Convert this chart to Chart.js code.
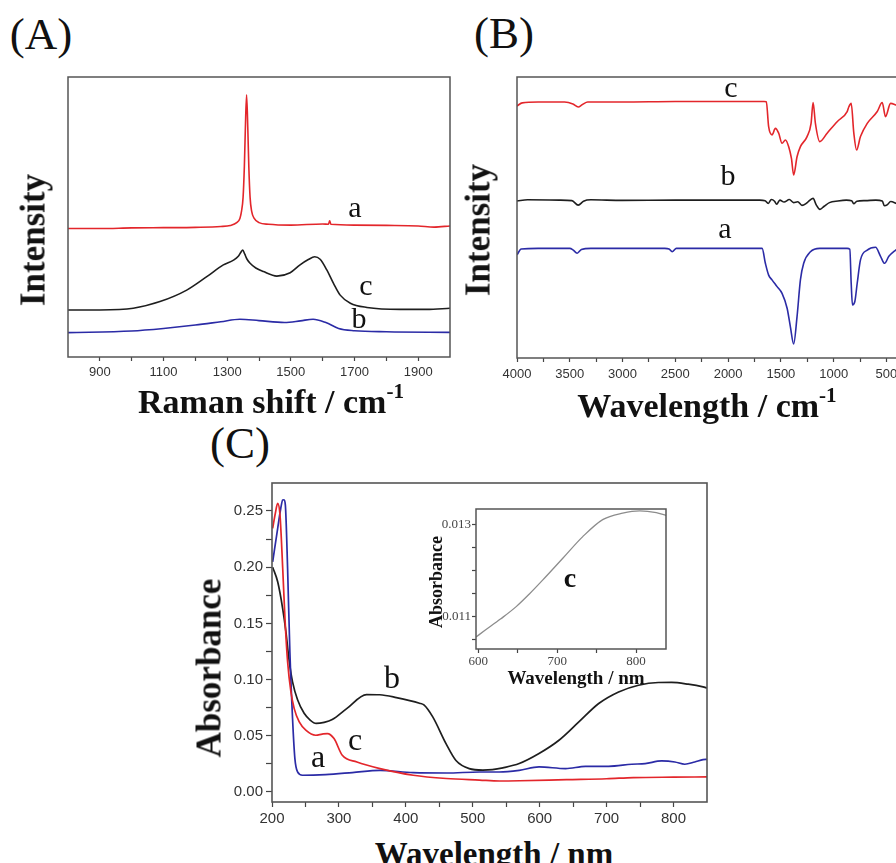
<!DOCTYPE html>
<html>
<head>
<meta charset="utf-8">
<script src="https://cdn.jsdelivr.net/npm/chart.js@4.4.0/dist/chart.umd.min.js"></script>
<style>
  html, body { margin:0; padding:0; background:#fff; }
  body { width:896px; height:863px; overflow:hidden; position:relative; }
  canvas { position:absolute; }
  .lbl { position:absolute; white-space:nowrap; font-family:'Liberation Serif','DejaVu Serif','Times New Roman',serif; color:#111; }
  .sup { font-size:0.62em; position:relative; top:-0.7em; }
</style>
</head>
<body>
<canvas id="cA" width="470" height="330" style="left:0px;top:60px;width:470px;height:330px"></canvas>
<canvas id="cB" width="440" height="330" style="left:470px;top:60px;width:440px;height:330px"></canvas>
<canvas id="cC" width="540" height="360" style="left:180px;top:470px;width:540px;height:360px"></canvas>
<canvas id="cI" width="260" height="195" style="left:420px;top:495px;width:260px;height:195px"></canvas>
<script>
// ---------------- DATA ----------------
// Panel A: Raman spectra (x = Raman shift / cm-1, y = intensity, arbitrary units)
const A_a_x = [800,900,1000,1100,1200,1280,1310,1330,1340,1345,1350,1354,1357,1361,1365,1368,1372,1377,1385,1400,1430,1500,1600,1618,1622,1626,1700,1800,1900,1950,2000];
const A_a_y = [45.9,45.9,46.1,46.2,46.3,46.6,47.0,48.0,49.5,52.0,57.0,68.0,81.0,93.6,81.0,68.0,57.0,52.0,49.5,48.0,47.4,47.1,47.5,47.4,48.6,47.4,47.1,47.0,46.8,46.4,46.8];
const A_c_x = [800,900,1005,1089,1173,1236,1288,1320,1335,1343,1349,1355,1362,1372,1390,1414,1456,1498,1529,1555,1575,1592,1613,1634,1655,1687,1739,1843,1927,2000];
const A_c_y = [16.8,16.8,17.4,19.8,23.9,28.7,32.9,34.6,36.0,37.4,38.2,36.8,35.0,33.5,31.8,30.5,28.9,30.1,32.9,34.8,35.8,34.9,31.1,26.3,22.1,19.2,17.7,17.0,17.0,17.4];
const A_b_x = [800,1000,1100,1200,1280,1340,1400,1480,1530,1570,1610,1650,1700,1800,2000];
const A_b_y = [8.7,9.3,10.2,11.4,12.6,13.5,13.0,12.3,12.9,13.5,12.3,10.2,9.4,9.0,8.8];
const A_xTicks = [900,1000,1100,1200,1300,1400,1500,1600,1700,1800,1900];
const A_xLabels = [900,1100,1300,1500,1700,1900];

// Panel B: IR spectra (x = wavenumber / cm-1, y = intensity, arbitrary units)
const B_c_x = [4000,3950,3800,3550,3470,3420,3380,3330,3000,2500,2000,1660,1638,1616,1584,1552,1521,1489,1457,1426,1400,1379,1347,1315,1252,1214,1195,1173,1132,1062,967,872,856,834,809,783,746,682,587,540,509,461,404];
const B_c_y = [89.7,90.8,91.1,91.1,90.4,89.3,90.2,91.1,91.1,91.3,91.3,91.3,91.2,82.3,79.4,81.7,80.0,76.4,77.6,75.2,71.0,65.1,71.6,75.2,78.8,83.5,90.9,83.5,77.0,80.0,84.1,87.7,89.4,90.6,80.0,74.0,78.8,83.5,87.7,90.9,85.9,90.6,90.0];
const B_b_x = [4000,3900,3600,3480,3420,3370,3300,3000,2500,2000,1700,1650,1620,1590,1560,1540,1510,1470,1420,1380,1340,1300,1260,1230,1195,1165,1130,1090,1040,960,880,830,810,780,700,600,540,520,490,460,404];
const B_b_y = [55.9,56.3,56.2,56.0,54.4,55.8,56.3,56.1,56.2,56.2,56.2,56.0,55.0,56.4,55.8,54.7,56.2,55.5,56.4,55.3,55.6,54.3,55.0,56.0,56.8,54.5,52.9,54.0,55.3,55.9,56.2,56.0,54.9,55.8,56.0,56.2,55.9,54.2,54.6,55.7,55.0];
const B_a_x = [4000,3960,3800,3500,3470,3430,3390,3300,2600,2560,2530,2490,1700,1678,1647,1616,1584,1536,1489,1441,1410,1379,1347,1315,1284,1220,1132,872,847,834,822,800,777,746,682,603,556,518,477,404];
const B_a_y = [36.7,38.8,39.0,39.0,38.5,37.3,38.6,39.0,39.0,38.8,37.8,39.0,39.0,39.0,33.7,29.5,27.8,25.4,23.0,17.7,11.1,5.0,14.7,27.8,33.7,37.8,39.0,39.0,38.7,26.6,18.9,20.0,26.6,34.9,38.4,39.4,36.2,33.7,36.2,38.7];
const B_xTicks = [500,750,1000,1250,1500,1750,2000,2250,2500,2750,3000,3250,3500,3750,4000];
const B_xLabels = [500,1000,1500,2000,2500,3000,3500,4000];

// Panel C: UV-vis absorbance (x = wavelength / nm)
const C_b_x = [201,208.5,216,220.8,225.8,230.7,238.2,248,257,266,278,290,311.6,341.3,361,385.8,420.4,427,440.2,460,474.9,494.7,515,529.3,545,569.4,599,628.8,658.5,688.2,717.9,747.6,777.3,797,821.9,844.1,850];
const C_b_y = [0.200,0.187,0.163,0.1425,0.116,0.098,0.082,0.070,0.064,0.061,0.062,0.0645,0.0742,0.0867,0.0865,0.084,0.079,0.0775,0.0668,0.043,0.028,0.0208,0.0195,0.0199,0.0215,0.0253,0.0342,0.046,0.0623,0.0787,0.089,0.095,0.0974,0.0975,0.0959,0.0935,0.0925];
const C_c_x = [201,205,208.5,212,216,219.4,223.3,228.3,233.2,240.7,250.5,265.4,275,282.7,292.7,305,326.9,361.5,411,460.5,510,540,570,640,700,740,800,850];
const C_c_y = [0.2345,0.248,0.2568,0.246,0.199,0.154,0.116,0.089,0.0742,0.0623,0.055,0.0505,0.0515,0.052,0.0475,0.0327,0.0267,0.0208,0.0149,0.012,0.0106,0.0098,0.0100,0.0110,0.0118,0.0128,0.0132,0.0134];
const C_a_x = [201,208.5,213,216,218,220,223.3,226.7,230.7,234.2,238.2,245.6,280,320,361.4,410.9,460.5,510,539.7,569.4,599,638.7,668.4,703,737.7,757.5,782.2,802,816.9,831.7,844.1,850];
const C_a_y = [0.2048,0.2345,0.252,0.2598,0.26,0.255,0.199,0.1247,0.0654,0.0297,0.0178,0.0149,0.0155,0.0173,0.0193,0.0172,0.0169,0.0178,0.0178,0.0193,0.0223,0.0208,0.0228,0.0228,0.0247,0.0253,0.0276,0.0267,0.0247,0.0267,0.0288,0.029];
const C_xTicks = [200,250,300,350,400,450,500,550,600,650,700,750,800];
const C_xLabels = [200,300,400,500,600,700,800];
const C_yTicks = [0,0.025,0.05,0.075,0.1,0.125,0.15,0.175,0.2,0.225,0.25];
const C_yLabels = [0,0.05,0.1,0.15,0.2,0.25];

// Inset of C: curve c, 600-840 nm
const I_x = [597,608,628,648,665,681.8,707.1,732.4,757.7,783,804.7,825.7,838];
const I_y = [0.01056,0.0107,0.01095,0.01122,0.0115,0.0118,0.01227,0.01274,0.01311,0.01325,0.0133,0.01326,0.0132];
const I_xTicks = [600,650,700,750,800];
const I_xLabels = [600,700,800];
const I_yTicks = [0.0105,0.011,0.0115,0.012,0.0125,0.013];
const I_yLabels = [0.011,0.013];

// ---------------- STYLE / HELPERS ----------------
const RED = '#e3262b', BLACK = '#1e1e1e', BLUE = '#2b2ba6', GREY = '#8c8c8c';
const SANS = "'Liberation Sans', Arial, sans-serif";
const SERIF = "'Liberation Serif', 'Times New Roman', serif";

const framePlugin = {
  id: 'frame',
  afterDraw(chart, args, opts) {
    const { ctx, chartArea: a } = chart;
    ctx.save();
    ctx.strokeStyle = opts.color || '#555';
    ctx.lineWidth = opts.width || 1.5;
    ctx.strokeRect(a.left, a.top, a.right - a.left, a.bottom - a.top);
    ctx.restore();
  }
};

function series(xs, ys, color, width) {
  return {
    data: xs.map((x, i) => ({ x: x, y: ys[i] })),
    borderColor: color, borderWidth: width, pointRadius: 0, fill: false,
    cubicInterpolationMode: 'monotone'
  };
}

function xAxis(o) {
  return {
    type: 'linear', position: 'bottom', min: o.min, max: o.max, reverse: !!o.reverse,
    afterBuildTicks: ax => { ax.ticks = o.ticks.map(v => ({ value: v })); },
    afterFit: ax => { ax.height = o.height; },
    border: { display: false },
    grid: { display: true, drawOnChartArea: false, drawTicks: true, tickLength: o.tickLen, tickColor: '#444', tickWidth: 1.2 },
    ticks: { autoSkip: false, maxRotation: 0, minRotation: 0, padding: o.pad, color: o.color || '#333',
      font: { family: o.family || SANS, size: o.size },
      callback: v => o.labels.includes(v) ? o.fmt(v) : '' }
  };
}
function yAxis(o) {
  if (!o.ticks) {
    return { type: 'linear', min: o.min, max: o.max, border: { display: false },
      grid: { display: false }, ticks: { display: false },
      afterFit: ax => { ax.width = o.width; } };
  }
  return {
    type: 'linear', position: 'left', min: o.min, max: o.max,
    afterBuildTicks: ax => { ax.ticks = o.ticks.map(v => ({ value: v })); },
    afterFit: ax => { ax.width = o.width; },
    border: { display: false },
    grid: { display: true, drawOnChartArea: false, drawTicks: true, tickLength: o.tickLen, tickColor: '#444', tickWidth: 1.2 },
    ticks: { autoSkip: false, padding: o.pad, color: o.color || '#333',
      font: { family: o.family || SANS, size: o.size },
      callback: v => o.labels.includes(v) ? o.fmt(v) : '' }
  };
}
function baseOptions(padding, scales, frameWidth) {
  return {
    responsive: false, animation: false, devicePixelRatio: 1,
    layout: { padding: padding },
    plugins: { legend: { display: false }, tooltip: { enabled: false }, frame: { color: '#555', width: frameWidth } },
    scales: scales
  };
}

// ---------------- CHARTS ----------------
new Chart(document.getElementById('cA'), {
  type: 'line',
  data: { datasets: [
    series(A_a_x, A_a_y, RED, 1.6),
    series(A_c_x, A_c_y, BLACK, 1.6),
    series(A_b_x, A_b_y, BLUE, 1.6)
  ] },
  options: baseOptions({ left: 0, top: 17, right: 20, bottom: 0 }, {
    x: xAxis({ min: 800, max: 2000, ticks: A_xTicks, labels: A_xLabels, fmt: v => String(v), height: 33, tickLen: 4, pad: 4, size: 13 }),
    y: yAxis({ min: 0, max: 100, width: 68 })
  }, 1.5),
  plugins: [framePlugin]
});

new Chart(document.getElementById('cB'), {
  type: 'line',
  data: { datasets: [
    series(B_c_x, B_c_y, RED, 1.6),
    series(B_b_x, B_b_y, BLACK, 1.6),
    series(B_a_x, B_a_y, BLUE, 1.6)
  ] },
  options: baseOptions({ left: 0, top: 17, right: 13, bottom: 0 }, {
    x: xAxis({ min: 400, max: 4000, reverse: true, ticks: B_xTicks, labels: B_xLabels, fmt: v => String(v), height: 32, tickLen: 4, pad: 5, size: 13 }),
    y: yAxis({ min: 0, max: 100, width: 47 })
  }, 1.5),
  plugins: [framePlugin]
});

new Chart(document.getElementById('cC'), {
  type: 'line',
  data: { datasets: [
    series(C_c_x, C_c_y, RED, 1.7),
    series(C_a_x, C_a_y, BLUE, 1.7),
    series(C_b_x, C_b_y, BLACK, 1.7)
  ] },
  options: baseOptions({ left: 0, top: 13, right: 13, bottom: 0 }, {
    x: xAxis({ min: 200, max: 850, ticks: C_xTicks, labels: C_xLabels, fmt: v => String(v), height: 28, tickLen: 5, pad: 3, size: 15 }),
    y: yAxis({ min: -0.0089, max: 0.2749, ticks: C_yTicks, labels: C_yLabels, fmt: v => v.toFixed(2), width: 92, tickLen: 6, pad: 3, size: 15 })
  }, 1.6),
  plugins: [framePlugin]
});

new Chart(document.getElementById('cI'), {
  type: 'line',
  data: { datasets: [ series(I_x, I_y, GREY, 1.3) ] },
  options: baseOptions({ left: 0, top: 14, right: 14, bottom: 0 }, {
    x: xAxis({ min: 597, max: 838, ticks: I_xTicks, labels: I_xLabels, fmt: v => String(v), height: 41, tickLen: 4, pad: 1, size: 13, family: SERIF, color: '#444' }),
    y: yAxis({ min: 0.0103, max: 0.01334, ticks: I_yTicks, labels: I_yLabels, fmt: v => v.toFixed(3), width: 56, tickLen: 4, pad: 1, size: 13, family: SERIF, color: '#444' })
  }, 1.5),
  plugins: [framePlugin]
});

// ---------------- TEXT (panel letters, axis titles, curve labels) ----------------
function placeText(html, x, y, size, weight, rotated) {
  const d = document.createElement('div');
  d.className = 'lbl';
  d.innerHTML = html;
  d.style.fontSize = size + 'px';
  d.style.lineHeight = size + 'px';
  d.style.fontWeight = weight;
  d.style.left = x + 'px';
  if (rotated) {
    d.style.top = y + 'px';
    d.style.transform = 'translate(-50%,-50%) rotate(-90deg)';
  } else {
    d.style.top = (y - 0.8375 * size) + 'px';
    d.style.transform = 'translateX(-50%)';
  }
  document.body.appendChild(d);
}
// panel letters
placeText('(A)', 41, 50, 45, 'normal');
placeText('(B)', 504, 49, 45, 'normal');
placeText('(C)', 240, 459, 45, 'normal');
// axis titles
placeText('Raman shift / cm<span class="sup">-1</span>', 271, 413, 34, 'bold');
placeText('Wavelength / cm<span class="sup">-1</span>', 707, 417, 34, 'bold');
placeText('Wavelength / nm', 494, 866, 33, 'bold');
placeText('Intensity', 33, 240, 35, 'bold', true);
placeText('Intensity', 477.5, 230, 35, 'bold', true);
placeText('Absorbance', 208.5, 668, 35, 'bold', true);
placeText('Absorbance', 435.5, 582, 18, 'bold', true);
placeText('Wavelength / nm', 576, 684, 19, 'bold');
// curve labels
placeText('a', 355, 217, 30, 'normal');
placeText('c', 366, 295, 30, 'normal');
placeText('b', 359, 328, 30, 'normal');
placeText('c', 731, 97, 30, 'normal');
placeText('b', 728, 185, 30, 'normal');
placeText('a', 725, 238, 30, 'normal');
placeText('b', 392, 688, 32, 'normal');
placeText('c', 355, 750, 32, 'normal');
placeText('a', 318, 767, 32, 'normal');
placeText('c', 570, 587, 28, 'bold');
</script>
</body>
</html>
